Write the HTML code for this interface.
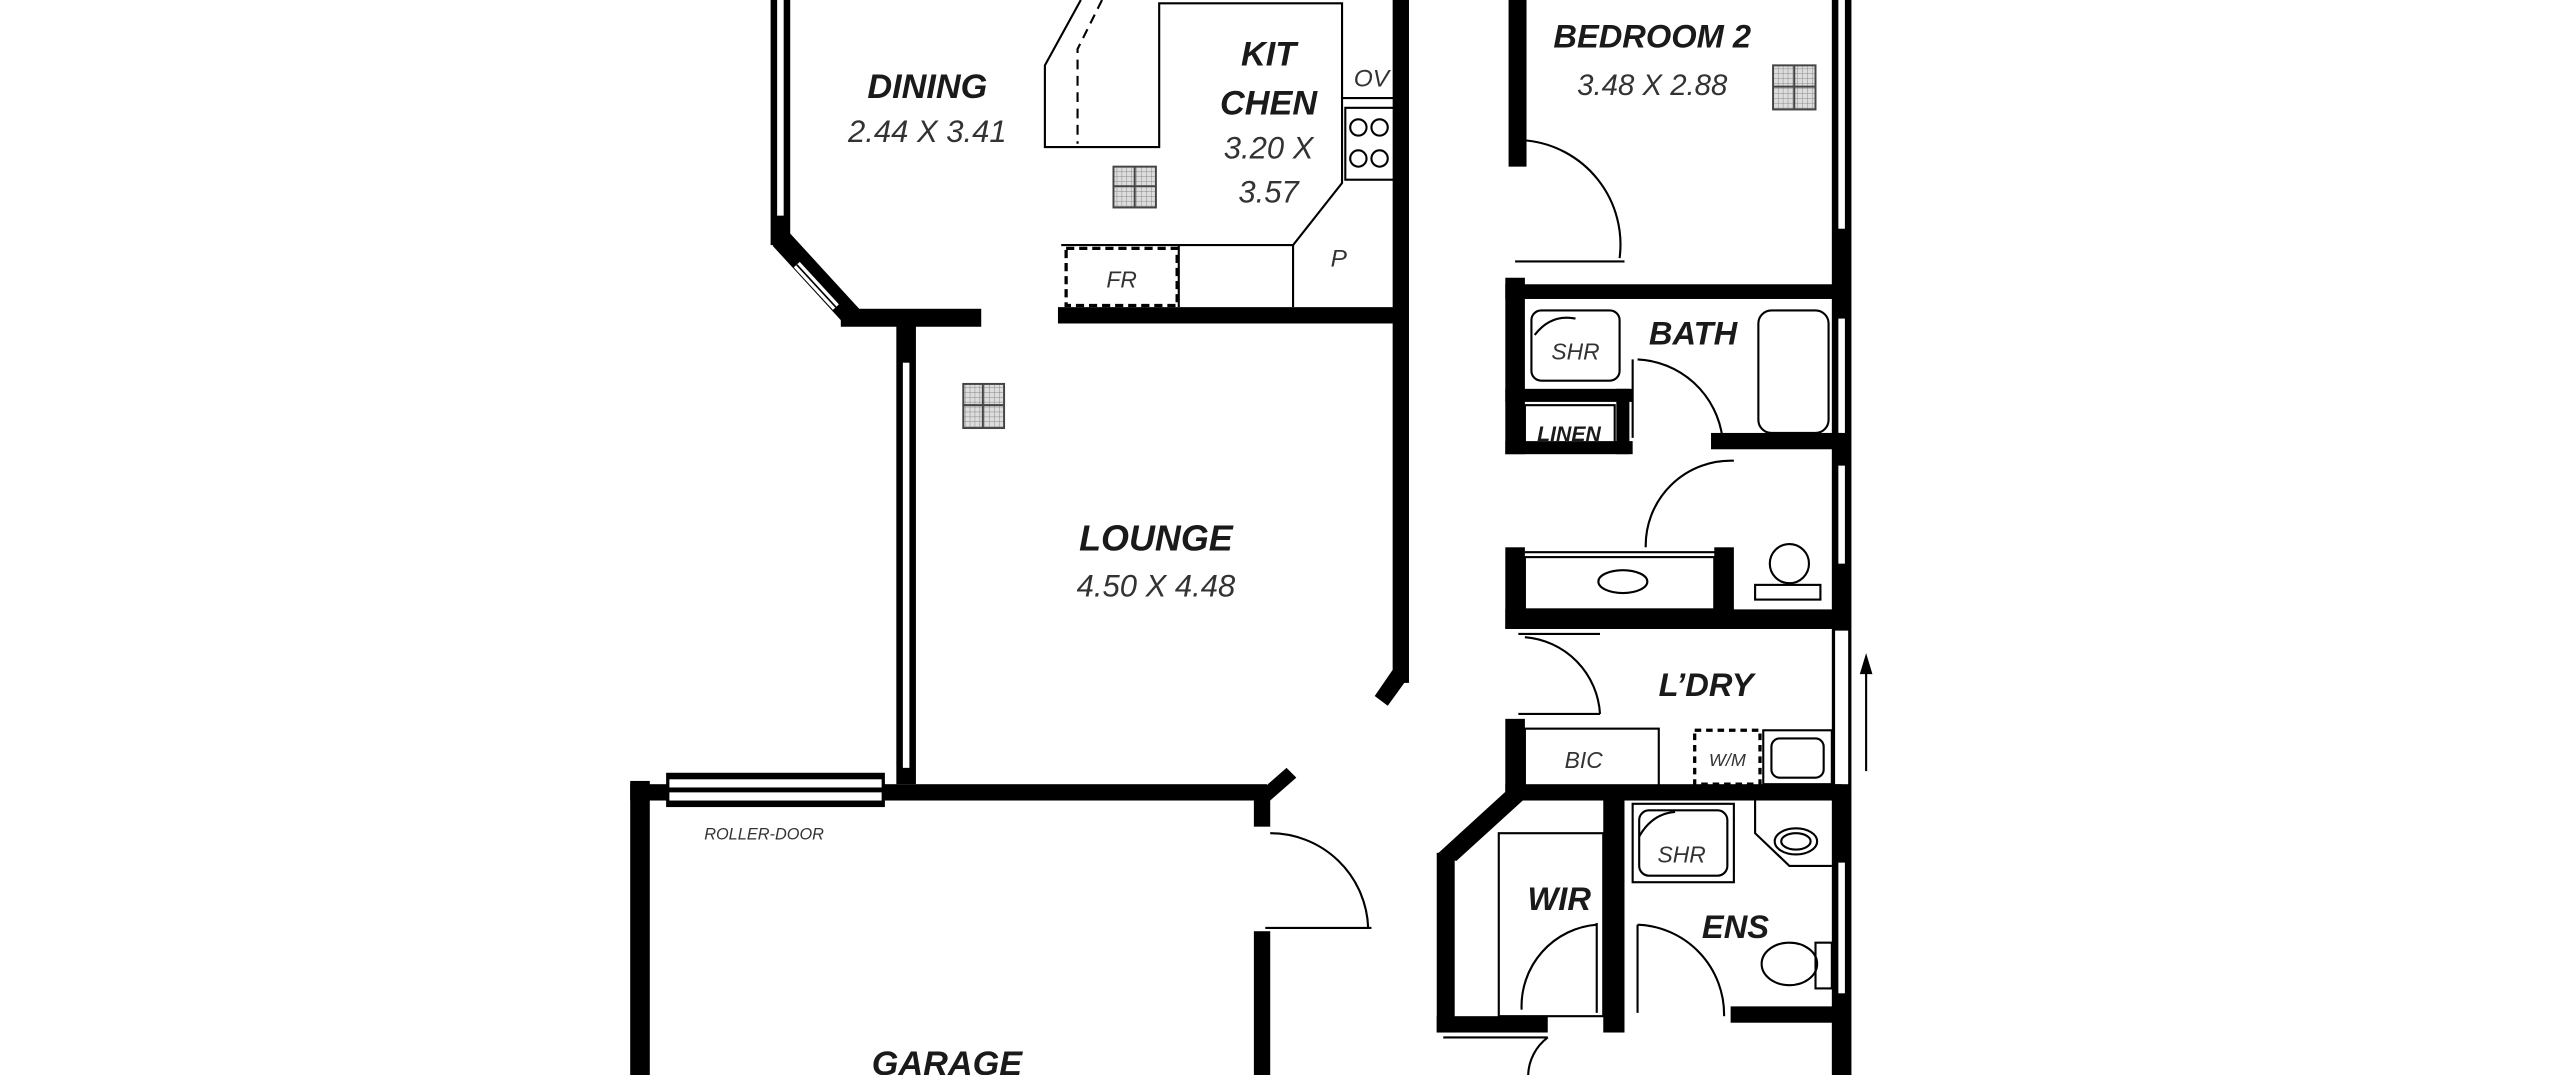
<!DOCTYPE html>
<html><head><meta charset="utf-8"><style>
html,body{margin:0;padding:0;background:#fff;}
svg{display:block;}
text{font-family:"Liberation Sans",sans-serif;fill:#1a1a1a;text-anchor:middle;}
.b{font-weight:bold;font-style:italic;}
.n{font-style:italic;fill:#333;}
</style></head><body>
<svg width="2560" height="1075" viewBox="0 0 1568 658" preserveAspectRatio="none" xmlns="http://www.w3.org/2000/svg">
<defs>
<pattern id="g" width="3" height="3" patternUnits="userSpaceOnUse"><rect width="3" height="3" fill="#ddd"/><path d="M0 0H3M0 0V3" stroke="#888" stroke-width="0.6"/></pattern>
</defs>
<g fill="#000">
<rect x="472" y="0" width="12" height="150"/>
<rect x="476" y="0" width="4" height="132" fill="#fff"/>
<line x1="478" y1="146" x2="522" y2="194" stroke="#000" stroke-width="13"/>
<line x1="488" y1="162" x2="512" y2="188" stroke="#fff" stroke-width="5"/>
<line x1="488" y1="162" x2="512" y2="188" stroke="#000" stroke-width="1"/>
<rect x="515" y="189" width="86" height="11"/>
<rect x="549" y="195" width="12" height="285"/>
<rect x="553" y="222" width="4" height="248" fill="#fff"/>
<rect x="648" y="188" width="212" height="10"/>
<rect x="853" y="0" width="10" height="418"/>
<polygon points="853,410 863,414 850,432 842,426"/>
<rect x="386" y="478" width="12" height="180"/>
<rect x="386" y="480" width="390" height="10"/>
<rect x="408" y="473" width="134" height="21"/>
<rect x="410" y="477" width="130" height="5" fill="#fff"/>
<rect x="410" y="485" width="130" height="5" fill="#fff"/>
<rect x="768" y="482" width="10" height="24"/>
<polygon points="772,484 788,470 794,476 778,490"/>
<rect x="768" y="570" width="10" height="88"/>
<rect x="924" y="0" width="11" height="102"/>
<rect x="1122" y="0" width="12" height="658"/>
<rect x="1126" y="0" width="4" height="140" fill="#fff"/>
<rect x="1126" y="195" width="4" height="70" fill="#fff"/>
<rect x="1126" y="285" width="4" height="60" fill="#fff"/>
<rect x="1124" y="386" width="8" height="94" fill="#fff"/>
<rect x="1126" y="528" width="4" height="80" fill="#fff"/>
<rect x="922" y="174" width="206" height="9"/>
<rect x="922" y="170" width="12" height="108"/>
<rect x="922" y="238" width="78" height="8"/>
<rect x="922" y="270" width="78" height="8"/>
<rect x="990" y="238" width="8" height="40"/>
<rect x="1048" y="265" width="80" height="10"/>
<rect x="922" y="335" width="12" height="50"/>
<rect x="1050" y="335" width="12" height="42"/>
<rect x="922" y="373" width="206" height="12"/>
<rect x="922" y="440" width="12" height="48"/>
<rect x="922" y="480" width="206" height="10"/>
<polygon points="926,481 936,487 892,527 880,523"/>
<rect x="880" y="522" width="11" height="110"/>
<rect x="880" y="622" width="68" height="10"/>
<rect x="982" y="485" width="13" height="147"/>
<rect x="1060" y="616" width="68" height="10"/>
</g>
<g fill="none" stroke="#000" stroke-width="1.3">
<polyline points="662,0 640,40 640,90 710,90 710,2 822,2 822,112 792,150 792,188"/>
<polyline points="675,0 660,30 660,88" stroke-dasharray="6,4"/>
<line x1="650" y1="150" x2="792" y2="150"/>
<line x1="722" y1="150" x2="722" y2="188"/>
<line x1="822" y1="60" x2="858" y2="60"/>
<rect x="824" y="66" width="30" height="44"/>
<circle cx="832" cy="78" r="5"/><circle cx="845" cy="78" r="5"/><circle cx="832" cy="97" r="5"/><circle cx="845" cy="97" r="5"/>
<rect x="653" y="152" width="68" height="35" stroke-dasharray="5,3" stroke-width="2"/>
<path d="M935 86 A64 64 0 0 1 992 158"/>
<line x1="928" y1="160" x2="995" y2="160"/>
<rect x="938" y="190" width="54" height="43" rx="6"/>
<path d="M940 205 Q950 192 965 195"/>
<rect x="934" y="248" width="55" height="24"/>
<rect x="1077" y="190" width="43" height="75" rx="8"/>
<line x1="1000" y1="220" x2="1000" y2="268"/>
<path d="M1003 220 A55 55 0 0 1 1055 268"/>
<path d="M1008 335 A52 52 0 0 1 1062 282"/>
<line x1="934" y1="338" x2="1060" y2="338"/>
<rect x="934" y="341" width="116" height="32"/>
<ellipse cx="994" cy="356" rx="15" ry="7"/>
<circle cx="1096" cy="345" r="12"/>
<rect x="1075" y="358" width="40" height="9"/>
<path d="M934 390 A50 50 0 0 1 980 437"/>
<line x1="930" y1="388" x2="980" y2="388"/>
<line x1="930" y1="437" x2="980" y2="437"/>
<rect x="934" y="446" width="82" height="36"/>
<rect x="1038" y="447" width="40" height="33" stroke-dasharray="4,3" stroke-width="2"/>
<rect x="1080" y="447" width="42" height="33"/>
<rect x="1085" y="452" width="32" height="24" rx="5"/>
<line x1="1143" y1="472" x2="1143" y2="410"/>
<polygon points="1143,402 1140,412 1146,412" fill="#000"/>
<rect x="918" y="510" width="64" height="112"/>
<rect x="1000" y="492" width="62" height="48"/>
<rect x="1004" y="496" width="54" height="40" rx="6"/>
<path d="M1004 512 Q1012 498 1026 497"/>
<polyline points="1075,490 1075,510 1096,530 1122,530"/>
<ellipse cx="1100" cy="515" rx="13" ry="8"/>
<ellipse cx="1100" cy="515" rx="9" ry="5"/>
<ellipse cx="1096" cy="590" rx="17" ry="13"/>
<rect x="1112" y="577" width="10" height="28"/>
<line x1="978" y1="565" x2="978" y2="620"/>
<path d="M978 566 A50 50 0 0 0 932 618"/>
<line x1="1003" y1="566" x2="1003" y2="620"/>
<path d="M1003 566 A55 55 0 0 1 1056 622"/>
<line x1="884" y1="635" x2="948" y2="635"/>
<path d="M948 635 A30 30 0 0 0 936 658"/>
<path d="M778 510 A60 60 0 0 1 838 568"/>
<line x1="775" y1="568" x2="840" y2="568"/>
</g>
<g stroke="#444" stroke-width="1.2" fill="url(#g)">
<rect x="682" y="102" width="26" height="25"/><path d="M695 102V127M682 114H708" fill="none"/>
<rect x="590" y="235" width="25" height="27"/><path d="M602 235V262M590 248H615" fill="none"/>
<rect x="1086" y="40" width="26" height="27"/><path d="M1099 40V67M1086 53H1112" fill="none"/>
</g>
<text class="b" x="568" y="60" font-size="21">DINING</text>
<text class="n" x="568" y="87" font-size="19">2.44 X 3.41</text>
<text class="b" x="777" y="40" font-size="21">KIT</text>
<text class="b" x="777" y="70" font-size="21">CHEN</text>
<text class="n" x="777" y="97" font-size="19">3.20 X</text>
<text class="n" x="777" y="124" font-size="19">3.57</text>
<text class="n" x="840" y="53" font-size="15">OV</text>
<text class="n" x="820" y="163" font-size="15">P</text>
<text class="n" x="687" y="176" font-size="14">FR</text>
<text class="b" x="708" y="337" font-size="22">LOUNGE</text>
<text class="n" x="708" y="365" font-size="19">4.50 X 4.48</text>
<text class="b" x="1012" y="29" font-size="20">BEDROOM 2</text>
<text class="n" x="1012" y="58" font-size="18">3.48 X 2.88</text>
<text class="n" x="965" y="220" font-size="14">SHR</text>
<text class="b" x="1037" y="211" font-size="20">BATH</text>
<text class="b" x="961" y="270" font-size="13">LINEN</text>
<text class="b" x="1045" y="426" font-size="20">L’DRY</text>
<text class="n" x="970" y="470" font-size="14">BIC</text>
<text class="n" x="1058" y="469" font-size="11">W/M</text>
<text class="n" x="1030" y="528" font-size="14">SHR</text>
<text class="b" x="955" y="557" font-size="20">WIR</text>
<text class="b" x="1063" y="574" font-size="20">ENS</text>
<text class="n" x="468" y="514" font-size="10">ROLLER-DOOR</text>
<text class="b" x="580" y="658" font-size="21">GARAGE</text>
</svg>
</body></html>
